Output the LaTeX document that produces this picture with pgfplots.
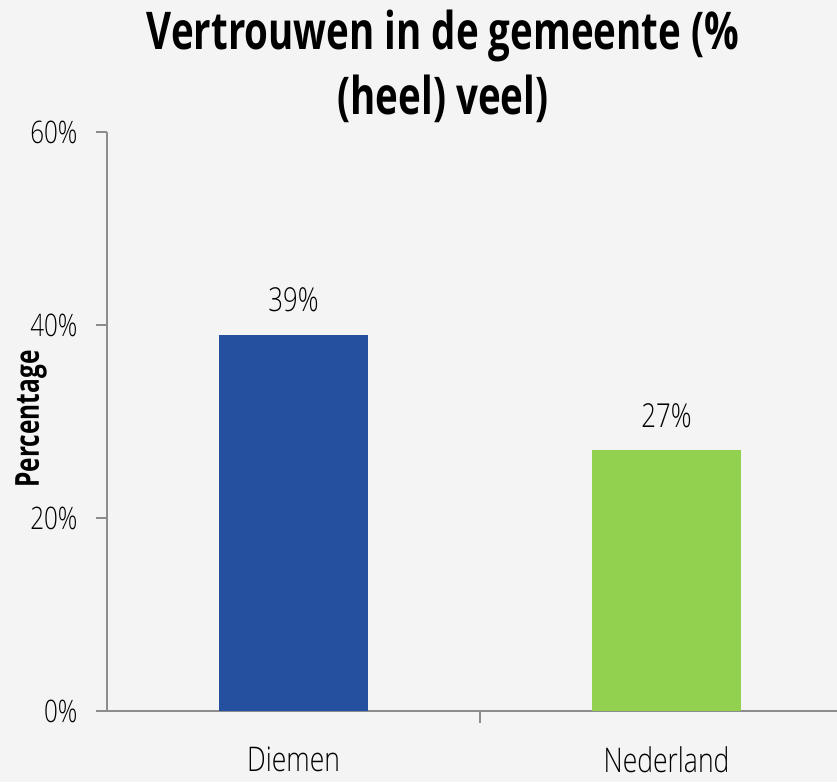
\documentclass[border=0pt]{standalone}
\usepackage{fontspec}
\setmainfont{Open Sans Light}[FakeStretch=0.78, BoldFont={Open Sans Bold}, BoldFeatures={FakeStretch=0.74}]
\usepackage{pgfplots}
\pgfplotsset{compat=1.18}
\definecolor{bgc}{HTML}{F4F4F4}
\definecolor{axgray}{HTML}{8C8C8C}
\definecolor{barblue}{HTML}{2550A0}
\definecolor{bargreen}{HTML}{92D050}
\begin{document}
\begin{tikzpicture}[x=1pt,y=1pt]
\fill[bgc] (0,0) rectangle (837,782);
\useasboundingbox (0,0) rectangle (837,782);
\begin{axis}[
  at={(107pt,71pt)}, anchor=south west,
  scale only axis, width=730pt, height=579pt,
  xmin=-0.5, xmax=1.457, ymin=0, ymax=60,
  /pgf/number format/assume math mode=true,
  axis x line=bottom, axis y line=left,
  axis line style={draw=axgray, line width=1.5pt, -},
  tick align=outside,
  major tick length=11pt,
  ytick={0,20,40,60},
  yticklabel={\pgfmathprintnumber{\tick}\%},
  y tick style={draw=axgray, line width=1.5pt},
  yticklabel style={font=\fontsize{31}{34}\selectfont, xshift=-15pt},
  xtick={0,1}, xticklabels={Diemen,Nederland},
  x tick style={draw=none},
  xticklabel style={font=\fontsize{34}{38}\selectfont, yshift=-21pt},
  extra x ticks={0.5}, extra x tick labels={},
  extra x tick style={x tick style={draw=axgray, line width=1.5pt}, major tick length=12pt},
  ybar, bar width=0.4, bar shift=0pt,
  nodes near coords={\pgfmathprintnumber{\pgfplotspointmeta}\%},
  nodes near coords style={font=\fontsize{33}{36}\selectfont, black, yshift=19pt},
  clip=false,
]
\addplot[fill=barblue, draw=none] coordinates {(0,39)};
\addplot[fill=bargreen, draw=none] coordinates {(1,27)};
\end{axis}
\node[rotate=90, font=\bfseries\fontsize{33}{36}\selectfont] at (31,363) {Percentage};
\node[font=\bfseries\fontsize{52}{60}\selectfont, anchor=base] at (443,732) {Vertrouwen in de gemeente (\%};
\node[font=\bfseries\fontsize{52}{60}\selectfont, anchor=base] at (443,667) {(heel) veel)};
\end{tikzpicture}
\end{document}
